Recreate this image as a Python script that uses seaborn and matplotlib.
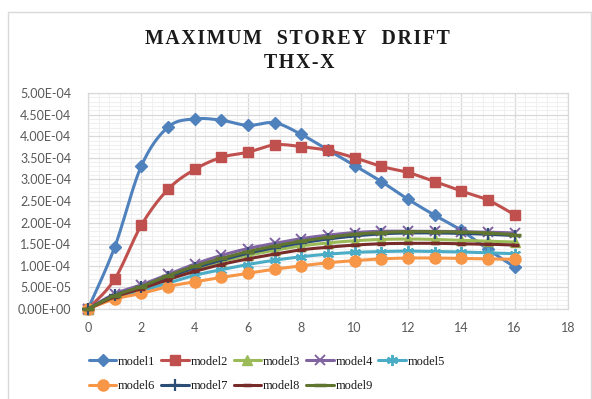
import numpy as np
import pandas as pd
import matplotlib
matplotlib.use("Agg")
import matplotlib.pyplot as plt
import seaborn as sns
from matplotlib.lines import Line2D
from matplotlib.patches import Rectangle
from matplotlib.ticker import MultipleLocator, FuncFormatter

# ---------------- data ----------------
storeys = list(range(0, 17))
model1 = [0, 1.43e-4, 3.31e-4, 4.21e-4, 4.40e-4, 4.37e-4, 4.25e-4, 4.31e-4, 4.04e-4, 3.68e-4,
          3.32e-4, 2.95e-4, 2.54e-4, 2.17e-4, 1.82e-4, 1.38e-4, 0.97e-4]
model2 = [0, 0.69e-4, 1.94e-4, 2.77e-4, 3.23e-4, 3.51e-4, 3.63e-4, 3.80e-4, 3.76e-4, 3.67e-4,
          3.50e-4, 3.30e-4, 3.16e-4, 2.95e-4, 2.73e-4, 2.52e-4, 2.18e-4]
model3 = [0, 0.30e-4, 0.50e-4, 0.73e-4, 0.93e-4, 1.10e-4, 1.24e-4, 1.36e-4, 1.46e-4, 1.53e-4,
          1.58e-4, 1.61e-4, 1.62e-4, 1.61e-4, 1.59e-4, 1.57e-4, 1.55e-4]
model4 = [0, 0.35e-4, 0.56e-4, 0.80e-4, 1.04e-4, 1.24e-4, 1.40e-4, 1.52e-4, 1.63e-4, 1.71e-4,
          1.77e-4, 1.80e-4, 1.80e-4, 1.80e-4, 1.79e-4, 1.78e-4, 1.76e-4]
model5 = [0, 0.27e-4, 0.42e-4, 0.60e-4, 0.78e-4, 0.91e-4, 1.03e-4, 1.13e-4, 1.21e-4, 1.27e-4,
          1.31e-4, 1.33e-4, 1.34e-4, 1.33e-4, 1.32e-4, 1.30e-4, 1.28e-4]
model6 = [0, 0.23e-4, 0.36e-4, 0.52e-4, 0.63e-4, 0.73e-4, 0.83e-4, 0.92e-4, 1.00e-4, 1.07e-4,
          1.12e-4, 1.16e-4, 1.18e-4, 1.18e-4, 1.17e-4, 1.16e-4, 1.15e-4]
model7 = [0, 0.32e-4, 0.50e-4, 0.74e-4, 0.95e-4, 1.13e-4, 1.29e-4, 1.42e-4, 1.53e-4, 1.62e-4,
          1.69e-4, 1.74e-4, 1.76e-4, 1.76e-4, 1.75e-4, 1.73e-4, 1.70e-4]
model8 = [0, 0.28e-4, 0.47e-4, 0.68e-4, 0.87e-4, 1.03e-4, 1.16e-4, 1.27e-4, 1.37e-4, 1.43e-4,
          1.48e-4, 1.51e-4, 1.52e-4, 1.52e-4, 1.51e-4, 1.50e-4, 1.48e-4]
model9 = [0, 0.31e-4, 0.52e-4, 0.77e-4, 0.99e-4, 1.17e-4, 1.33e-4, 1.46e-4, 1.57e-4, 1.66e-4,
          1.73e-4, 1.77e-4, 1.79e-4, 1.79e-4, 1.78e-4, 1.76e-4, 1.72e-4]

series_names = ["model1", "model2", "model3", "model4", "model5",
                "model6", "model7", "model8", "model9"]
series_values = [model1, model2, model3, model4, model5, model6, model7, model8, model9]

title_line1 = "MAXIMUM  STOREY  DRIFT"
title_line2 = "THX-X"

# ---------------- styles ----------------
colors = ["#4F81BD", "#C0504D", "#9BBB59", "#8064A2", "#4BACC6",
          "#F79646", "#2C4D75", "#772C2A", "#5F7530"]
markers = ["D", "s", "^", "x", (6, 2, 0), "o", "+", "_", "_"]
msizes = [6.5, 7.5, 7.5, 6.5, 8, 8, 8, 6, 8]
medgew = [1, 1, 1, 1.4, 1.4, 1, 1.6, 2.5, 2.5]


def smooth(x, y, n=24):
    """Excel-like smoothed line (Catmull-Rom -> cubic Bezier)."""
    x = np.asarray(x, float)
    y = np.asarray(y, float)
    P = np.column_stack([x, y])
    out = []
    for i in range(len(P) - 1):
        p0 = P[i - 1] if i > 0 else P[i]
        p1 = P[i]
        p2 = P[i + 1]
        p3 = P[i + 2] if i + 2 < len(P) else P[i + 1]
        c1 = p1 + (p2 - p0) / 6.0
        c2 = p2 - (p3 - p1) / 6.0
        t = np.linspace(0, 1, n, endpoint=(i == len(P) - 2))[:, None]
        b = ((1 - t) ** 3) * p1 + 3 * ((1 - t) ** 2) * t * c1 + 3 * (1 - t) * t ** 2 * c2 + t ** 3 * p2
        out.append(b)
    return np.vstack(out)


def spaced(s):
    """Widen letter spacing with hair spaces."""
    return "\u200a".join(s)


sns.set_theme(style="white")
plt.rcParams["font.family"] = ["Lato", "DejaVu Sans"]

fig = plt.figure(figsize=(5.92, 3.99), dpi=100)
ax = fig.add_axes([88 / 592, 1 - 309 / 399, 480 / 592, 216 / 399])

for i, (name, vals) in enumerate(zip(series_names, series_values)):
    pts = smooth(storeys, vals)
    df = pd.DataFrame({"x": pts[:, 0], "y": pts[:, 1]})
    sns.lineplot(data=df, x="x", y="y", sort=False, estimator=None,
                 color=colors[i], lw=2.2, ax=ax, zorder=3 + i * 0.1, legend=False)
    ax.plot(storeys, vals, linestyle="none", marker=markers[i], ms=msizes[i],
            color=colors[i], mec=colors[i], mew=medgew[i], zorder=3.05 + i * 0.1,
            clip_on=False)

ax.set_xlim(0, 18)
ax.set_ylim(0, 5e-4)
ax.xaxis.set_major_locator(MultipleLocator(2))
ax.xaxis.set_minor_locator(MultipleLocator(0.4))
ax.yaxis.set_major_locator(MultipleLocator(5e-5))
ax.yaxis.set_minor_locator(MultipleLocator(1e-5))


def sci(v, pos):
    if abs(v) < 1e-12:
        return "0.00E+00"
    s = f"{v:.2E}"
    mant, exp = s.split("E")
    sign = exp[0]
    e = int(exp[1:])
    return f"{mant}E{sign}{e:02d}"


ax.yaxis.set_major_formatter(FuncFormatter(sci))
ax.grid(which="major", color="#D9D9D9", lw=0.9, zorder=0)
ax.grid(which="minor", color="#F0F0F0", lw=0.8, zorder=0)
ax.set_axisbelow(True)
for sp in ax.spines.values():
    sp.set_color("#D9D9D9")
    sp.set_linewidth(0.9)
ax.tick_params(axis="both", which="both", length=0, labelsize=9, labelcolor="#595959")
ax.tick_params(axis="y", pad=12)
ax.tick_params(axis="x", pad=9)
ax.set_xlabel("")
ax.set_ylabel("")

# titles
title_font = ["Liberation Serif", "DejaVu Serif"]
fig.text(0.503, 1 - 39 / 399, spaced(title_line1), ha="center", va="center",
         fontsize=14.3, fontweight="bold", family=title_font, color="#1a1a1a")
fig.text(0.505, 1 - 63 / 399, spaced(title_line2), ha="center", va="center",
         fontsize=14.3, fontweight="bold", family=title_font, color="#1a1a1a")

# legend (row-wise order: matplotlib fills column by column)
order = [0, 5, 1, 6, 2, 7, 3, 8, 4]
handles = [Line2D([0], [0], color=colors[i], lw=2.2, marker=markers[i], ms=msizes[i],
                  mec=colors[i], mew=medgew[i]) for i in range(len(series_names))]
leg = fig.legend([handles[k] for k in order], [series_names[k] for k in order],
                 loc="center", ncol=5,
                 bbox_to_anchor=(267 / 592, 1 - 374 / 399), frameon=False,
                 prop={"family": "Liberation Serif", "size": 9},
                 handlelength=2.2, handletextpad=0.15, columnspacing=0.45,
                 labelspacing=1.0)
for t in leg.get_texts():
    t.set_color("#1a1a1a")

# chart area border
fig.patches.append(Rectangle((8 / 592, -0.05), (590.7 - 8) / 592, 1.05 - 12 / 399,
                             transform=fig.transFigure, fill=False,
                             edgecolor="#D9D9D9", lw=1.0))

fig.savefig("out.png", dpi=100)
